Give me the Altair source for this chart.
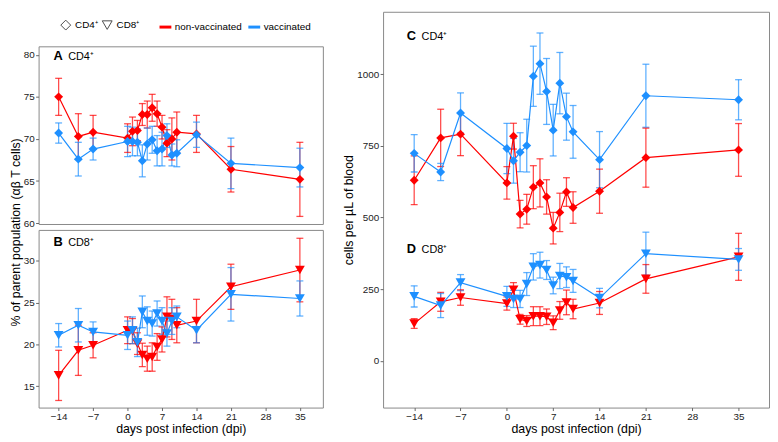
import altair as alt
import pandas as pd

FONT = "Liberation Sans"

days = [-14, -10, -7, 0, 1, 2, 3, 4, 5, 6, 7, 8, 9, 10, 14, 21, 35]
groups = ["non-vaccinated", "vaccinated"]
cells = ["CD4⁺", "CD8⁺"]
panel_letters = ["A", "B", "C", "D"]
panel_cells = ["CD4⁺", "CD8⁺", "CD4⁺", "CD8⁺"]

# Panel A: CD4+ % of parent population
a_nonvac_mean = [75.0, 70.3, 70.8, 70.1, 70.9, 71.0, 72.9, 72.9, 73.7, 73.0, 71.4, 69.5, 70.0, 70.8, 70.6, 66.4, 65.2]
a_nonvac_err = [2.2, 2.7, 2.0, 1.7, 1.7, 1.2, 1.3, 1.6, 1.6, 1.5, 1.4, 1.6, 2.5, 2.4, 2.2, 2.7, 4.4]
a_vac_mean = [70.7, 67.6, 68.8, 69.7, 69.7, 69.6, 67.4, 69.4, 69.9, 68.6, 68.8, 70.4, 68.1, 68.3, 70.5, 67.1, 66.6]
a_vac_err = [1.2, 2.0, 1.3, 1.8, 1.7, 1.6, 1.9, 1.9, 1.6, 1.8, 2.0, 1.4, 1.3, 1.6, 1.5, 3.0, 2.3]

# Panel B: CD8+ % of parent population
b_nonvac_mean = [16.3, 19.3, 19.9, 21.7, 21.6, 20.1, 18.75, 18.3, 18.5, 19.7, 20.6, 23.3, 23.0, 22.3, 22.8, 26.9, 28.9]
b_nonvac_err = [3.0, 3.0, 1.5, 1.6, 1.5, 1.3, 1.4, 1.5, 1.7, 1.6, 1.5, 2.4, 2.4, 2.1, 2.6, 2.7, 3.8]
b_vac_mean = [21.1, 22.3, 21.5, 21.1, 21.7, 20.25, 23.9, 22.8, 22.5, 23.7, 22.8, 21.3, 22.8, 23.3, 21.7, 26.0, 25.5]
b_vac_err = [1.4, 2.0, 1.2, 1.7, 1.6, 1.7, 1.9, 1.7, 1.5, 1.5, 1.6, 1.5, 1.6, 1.3, 1.5, 3.2, 2.1]

# Panel C: CD4+ cells per uL
c_nonvac_mean = [630, 778, 791, 621, 784, 512, 529, 606, 621, 572, 463, 518, 589, 535, 592, 709, 736]
c_nonvac_err = [85, 100, 75, 57, 45, 48, 52, 75, 84, 60, 55, 67, 50, 55, 77, 103, 92]
c_vac_mean = [724, 659, 865, 741, 698, 728, 751, 993, 1037, 940, 805, 969, 852, 799, 702, 925, 911]
c_vac_err = [65, 30, 70, 88, 78, 68, 92, 105, 107, 115, 90, 107, 82, 92, 98, 110, 70]

# Panel D: CD8+ cells per uL
d_nonvac_mean = [130, 206, 221, 200, 248, 145, 139, 156, 156, 154, 133, 176, 204, 181, 202, 286, 363]
d_nonvac_err = [17, 33, 27, 23, 25, 17, 19, 33, 33, 27, 24, 31, 43, 34, 40, 50, 82]
d_vac_mean = [225, 193, 273, 225, 216, 216, 268, 328, 334, 317, 263, 296, 292, 279, 219, 374, 354]
d_vac_err = [37, 42, 28, 35, 30, 30, 40, 46, 45, 33, 29, 44, 36, 40, 34, 75, 38]

x_ticks = [-14, -7, 0, 7, 14, 21, 28, 35]
a_ticks = [60, 65, 70, 75, 80]
b_ticks = [15, 20, 25, 30]
cd_ticks = [0, 250, 500, 750, 1000]

RED = "#FF0000"
BLUE = "#1E90FF"


def make_df(nv_mean, nv_err, v_mean, v_err):
    rows = []
    for g, m, e in ((groups[0], nv_mean, nv_err), (groups[1], v_mean, v_err)):
        for d, mm, ee in zip(days, m, e):
            rows.append({"day": d, "mean": mm, "lo": mm - ee, "hi": mm + ee, "group": g})
    return pd.DataFrame(rows)


dfA = make_df(a_nonvac_mean, a_nonvac_err, a_vac_mean, a_vac_err)
dfB = make_df(b_nonvac_mean, b_nonvac_err, b_vac_mean, b_vac_err)
dfC = make_df(c_nonvac_mean, c_nonvac_err, c_vac_mean, c_vac_err)
dfD = make_df(d_nonvac_mean, d_nonvac_err, d_vac_mean, d_vac_err)

color_scale = alt.Scale(domain=groups, range=[RED, BLUE])


def series_layers(df, shape, size, xs, ys, xaxis, yaxis):
    base = alt.Chart(df)
    col = alt.Color("group:N", scale=color_scale, legend=None)
    x = alt.X("day:Q", scale=xs, axis=xaxis)
    rules = base.mark_rule(strokeWidth=1.3, opacity=0.7).encode(
        x=x, y=alt.Y("lo:Q", scale=ys, axis=yaxis), y2="hi:Q", color=col)
    cap_lo = base.mark_tick(orient="horizontal", size=7, thickness=1.3, opacity=0.7).encode(
        x=x, y=alt.Y("lo:Q", scale=ys, axis=yaxis), color=col)
    cap_hi = base.mark_tick(orient="horizontal", size=7, thickness=1.3, opacity=0.7).encode(
        x=x, y=alt.Y("hi:Q", scale=ys, axis=yaxis), color=col)
    line = base.mark_line(strokeWidth=1.2).encode(
        x=x, y=alt.Y("mean:Q", scale=ys, axis=yaxis), color=col, order="day:Q")
    pts = base.mark_point(shape=shape, filled=True, size=size, opacity=1).encode(
        x=x, y=alt.Y("mean:Q", scale=ys, axis=yaxis), color=col)
    return [rules, cap_lo, cap_hi, line, pts]


def label_layers(idx, lx, ly):
    df = pd.DataFrame({"letter": [panel_letters[idx]], "cell": [panel_cells[idx]]})
    c = alt.Chart(df)
    l1 = c.mark_text(align="left", baseline="alphabetic", font=FONT, fontSize=13,
                     fontWeight="bold", color="black").encode(
        x=alt.value(lx), y=alt.value(ly), text="letter:N")
    l2 = c.mark_text(align="left", baseline="alphabetic", font=FONT, fontSize=11,
                     color="black").encode(
        x=alt.value(lx + 15), y=alt.value(ly), text="cell:N")
    return [l1, l2]


LEFT_W = 288
xs_left = alt.Scale(domain=[-18.07, 39.67], nice=False, zero=False)
xs_right = alt.Scale(domain=[-18.7, 39.6], nice=False, zero=False)
x_axis = alt.Axis(values=x_ticks, title="days post infection (dpi)")

ysA = alt.Scale(domain=[59.9, 81.0], nice=False, zero=False)
ysB = alt.Scale(domain=[12.45, 33.7], nice=False, zero=False)
ysR = alt.Scale(domain=[-163, 1218], nice=False, zero=False)

axisA = alt.Axis(values=a_ticks, title="% of parent population (αβ T cells)", titleY=188)
axisB = alt.Axis(values=b_ticks, title=None)
axisR = alt.Axis(values=cd_ticks, format="d", title="cells per µL of blood")

chartA = alt.layer(
    *series_layers(dfA, "diamond", 81, xs_left, ysA, None, axisA),
    *label_layers(0, 15, 14)
).properties(width=LEFT_W, height=180)

chartB = alt.layer(
    *series_layers(dfB, "triangle-down", 100, xs_left, ysB, x_axis, axisB),
    *label_layers(1, 15, 16)
).properties(width=LEFT_W, height=180)

chartR = alt.layer(
    *series_layers(dfC, "diamond", 81, xs_right, ysR, x_axis, axisR),
    *series_layers(dfD, "triangle-down", 100, xs_right, ysR, x_axis, axisR),
    *label_layers(2, 24, 29),
    *label_layers(3, 24, 244)
).properties(width=391, height=401)

empty = pd.DataFrame({"cell": pd.Series([], dtype=str), "group": pd.Series([], dtype=str)})
legend_shape = alt.Chart(empty).mark_point(filled=False, color="black", strokeWidth=1).encode(
    shape=alt.Shape("cell:N", scale=alt.Scale(domain=cells, range=["diamond", "triangle-down"]),
                    legend=alt.Legend(orient="none", legendX=22, legendY=8, direction="horizontal",
                                      title=None, labelFont=FONT, labelFontSize=10,
                                      labelColor="black", symbolSize=100, symbolStrokeWidth=1,
                                      symbolStrokeColor="black", labelOffset=4, gridAlign="none",
                                      columnPadding=1, padding=0)))
legend_color = alt.Chart(empty).mark_line().encode(
    color=alt.Color("group:N", scale=color_scale,
                    legend=alt.Legend(orient="none", legendX=121, legendY=8, direction="horizontal",
                                      title=None, labelFont=FONT, labelFontSize=10,
                                      labelColor="black", symbolType="stroke", symbolSize=144,
                                      symbolStrokeWidth=3, labelOffset=2, gridAlign="none",
                                      columnPadding=0, padding=0)))
spacer = alt.layer(legend_shape, legend_color).properties(
    width=LEFT_W, height=29, view=alt.ViewBackground(stroke="transparent"))

left = alt.vconcat(spacer, chartA, chartB, spacing=6, bounds="flush").resolve_scale(
    x="independent", y="independent")

chart = alt.hconcat(left, chartR, spacing=18).resolve_scale(
    x="independent", y="independent"
).properties(padding=0, background="white").configure_view(
    stroke="#888888", strokeWidth=1
).configure_axis(
    domain=False, tickSize=3, tickColor="#666666", tickWidth=1,
    labelFont=FONT, labelFontSize=10, labelColor="#222222", labelPadding=1.5,
    titleFont=FONT, titleFontSize=12.5, titleFontWeight="normal", titleColor="black",
    titlePadding=1, grid=False
)

chart.save("out.html", embed_options={"renderer": "svg", "actions": False})
